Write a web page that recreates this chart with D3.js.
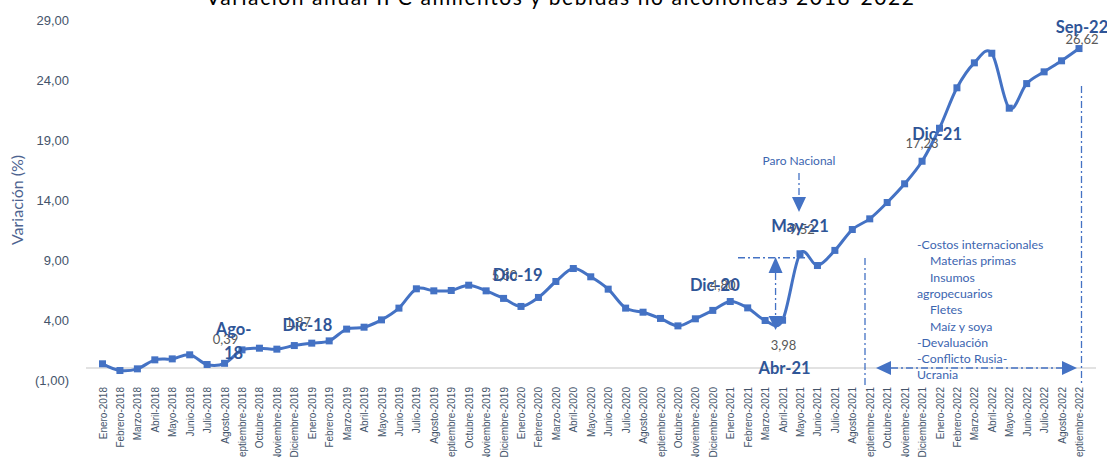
<!DOCTYPE html>
<html lang="es">
  <head>
    <meta charset="UTF-8" />
    <title>Variación anual IPC alimentos y bebidas no alcohólicas 2018-2022</title>
    <script src="https://cdn.jsdelivr.net/npm/d3@7"></script>
    <style>
      body {
        margin: 0;
        background: #fff;
      }

      svg {
        display: block;
        font-family: Lato, 'Open Sans', sans-serif;
      }

      .axis-y text {
        font-size: 13px;
        fill: #44546a;
      }

      .axis-x text {
        font-size: 10px;
        fill: #44546a;
      }

      .serie {
        fill: none;
        stroke: #4472c4;
        stroke-width: 3px;
      }

      .marker {
        fill: #4472c4;
      }

      .tag {
        font-size: 16.5px;
        font-weight: bold;
        fill: #2f5597;
      }

      .valor {
        font-size: 13px;
        fill: #595959;
      }

      .guia {
        fill: none;
        stroke: #4472c4;
        stroke-width: 1.3px;
        stroke-dasharray: 7 3 2 3;
      }

      .flecha {
        fill: #4472c4;
      }

      .nota {
        font-size: 12.3px;
        fill: #3c65b0;
      }
    </style>
  </head>
  <body>
    <svg width="1107" height="457"></svg>

    <script>
      // meses de la serie (etiquetas del eje x)
      const meses = [
        'Enero-2018', 'Febrero-2018', 'Marzo-2018', 'Abril-2018', 'Mayo-2018', 'Junio-2018',
        'Julio-2018', 'Agosto-2018', 'Septiembre-2018', 'Octubre-2018', 'Noviembre-2018', 'Diciembre-2018',
        'Enero-2019', 'Febrero-2019', 'Marzo-2019', 'Abril-2019', 'Mayo-2019', 'Junio-2019',
        'Julio-2019', 'Agosto-2019', 'Septiembre-2019', 'Octubre-2019', 'Noviembre-2019', 'Diciembre-2019',
        'Enero-2020', 'Febrero-2020', 'Marzo-2020', 'Abril-2020', 'Mayo-2020', 'Junio-2020',
        'Julio-2020', 'Agosto-2020', 'Septiembre-2020', 'Octubre-2020', 'Noviembre-2020', 'Diciembre-2020',
        'Enero-2021', 'Febrero-2021', 'Marzo-2021', 'Abril-2021', 'Mayo-2021', 'Junio-2021',
        'Julio-2021', 'Agosto-2021', 'Septiembre-2021', 'Octubre-2021', 'Noviembre-2021', 'Diciembre-2021',
        'Enero-2022', 'Febrero-2022', 'Marzo-2022', 'Abril-2022', 'Mayo-2022', 'Junio-2022',
        'Julio-2022', 'Agosto-2022', 'Septiembre-2022'
      ];

      // variación anual (%)
      const variacion = [
        0.35, -0.21, -0.07, 0.68, 0.76, 1.10, 0.29, 0.39, 1.51, 1.65, 1.57, 1.87,
        2.07, 2.26, 3.24, 3.40, 4.01, 4.99, 6.60, 6.43, 6.46, 6.90, 6.43, 5.80,
        5.13, 5.88, 7.21, 8.29, 7.60, 6.57, 4.99, 4.65, 4.13, 3.51, 4.10, 4.80,
        5.54, 5.01, 3.96, 3.98, 9.52, 8.54, 9.80, 11.54, 12.43, 13.79, 15.35, 17.23,
        19.98, 23.35, 25.43, 26.23, 21.65, 23.70, 24.68, 25.60, 26.62
      ];

      const yTicks = [-1, 4, 9, 14, 19, 24, 29];

      // puntos destacados: mes, rótulo
      const hitos = ['Agosto-2018', 'Diciembre-2018', 'Diciembre-2019', 'Diciembre-2020',
        'Abril-2021', 'Mayo-2021', 'Diciembre-2021', 'Septiembre-2022'];
      const hitoRotulos = [['Ago-', '18'], ['Dic-18'], ['Dic-19'], ['Dic-20'],
        ['Abr-21'], ['May-21'], ['Dic-21'], ['Sep-22']];

      const causas = ['-Costos internacionales', '   Materias primas', '   Insumos', 'agropecuarios',
        '   Fletes', '   Maíz y soya', '-Devaluación', '-Conflicto Rusia-', 'Ucrania'];

      // posiciones de rótulos (desplazamientos respecto al punto)
      const layout = {
        'Agosto-2018': { tag: [9, -34], tag2: [9, -10], val: [1, -24] },
        'Diciembre-2018': { tag: [13, -20], val: [4, -23] },
        'Diciembre-2019': { tag: [14, -23], val: [1, -23] },
        'Diciembre-2020': { tag: [2, -25], val: [10, -25] },
        'Abril-2021': { tag: [2, 48], val: [1, 25] },
        'Mayo-2021': { tag: [0, -28], val: [2, -24] },
        'Diciembre-2021': { tag: [15, -27], val: [0, -18] },
        'Septiembre-2022': { tag: [3, -21], val: [3, -9] }
      };

      const svg = d3.select('svg');

      const x = d3.scalePoint().domain(meses).range([102.5, 1079]);
      const y = d3.scaleLinear().domain([-1, 29]).range([380, 20]);

      const fmt = (v) => {
        const s = d3.format('.2f')(Math.abs(v)).replace('.', ',');
        return v < 0 ? '(' + s + ')' : s;
      };

      // título (cortado arriba como en el original)
      svg.append('text')
        .attr('x', 560)
        .attr('y', 5)
        .attr('text-anchor', 'middle')
        .attr('textLength', 708)
        .style('font-size', '21px')
        .style('fill', '#000')
        .text('Variación anual IPC alimentos y bebidas no alcohólicas 2018-2022');

      // eje y
      const gy = svg.append('g')
        .attr('class', 'axis-y')
        .attr('transform', 'translate(72,0)')
        .call(d3.axisLeft(y).tickValues(yTicks).tickSize(0).tickFormat(fmt));
      gy.select('.domain').remove();

      svg.append('text')
        .attr('transform', 'translate(23,200) rotate(-90)')
        .attr('text-anchor', 'middle')
        .style('font-size', '16px')
        .style('fill', '#4d6390')
        .text('Variación (%)');

      // línea del cero
      svg.append('line')
        .attr('x1', 86)
        .attr('x2', 1096)
        .attr('y1', y(0))
        .attr('y2', y(0))
        .style('stroke', '#d9d9d9')
        .style('stroke-width', 1.5);

      // eje x
      const gx = svg.append('g')
        .attr('class', 'axis-x')
        .attr('transform', 'translate(0,387)')
        .call(d3.axisBottom(x).tickSize(0));
      gx.select('.domain').remove();
      gx.selectAll('text')
        .attr('transform', 'rotate(-90)')
        .attr('x', 0)
        .attr('y', 0)
        .attr('dy', '0.35em')
        .style('text-anchor', 'end');

      // serie
      const datos = meses.map((m, i) => ({ mes: m, v: variacion[i] }));

      const linea = d3.line()
        .x((d) => x(d.mes))
        .y((d) => y(d.v))
        .curve(d3.curveCatmullRom.alpha(0));

      svg.append('path').datum(datos).attr('class', 'serie').attr('d', linea);

      svg.selectAll('.marker')
        .data(datos)
        .enter()
        .append('rect')
        .attr('class', 'marker')
        .attr('x', (d) => x(d.mes) - 3.5)
        .attr('y', (d) => y(d.v) - 3.5)
        .attr('width', 7)
        .attr('height', 7);

      // guías y flechas
      const guia = (x1, y1, x2, y2) =>
        svg.append('line').attr('class', 'guia')
          .attr('x1', x1).attr('y1', y1).attr('x2', x2).attr('y2', y2);
      const tri = (pts) =>
        svg.append('path').attr('class', 'flecha').attr('d', 'M' + pts.join('L') + 'Z');

      const xAbr = x('Abril-2021') - 7;
      const xMay = x('Mayo-2021');
      const yMay = y(variacion[meses.indexOf('Mayo-2021')]);

      // Paro Nacional
      svg.append('text')
        .attr('class', 'nota')
        .attr('x', xMay - 1)
        .attr('y', 165)
        .attr('text-anchor', 'middle')
        .style('font-size', '12px')
        .text('Paro Nacional');
      guia(xMay - 1, 173, xMay - 1, 197);
      tri([[xMay - 8, 197], [xMay + 6, 197], [xMay - 1, 212]]);

      // salto abril-mayo 2021
      guia(738, yMay + 4, xMay + 8, yMay + 4);
      tri([[xAbr - 7, 273], [xAbr + 7, 273], [xAbr, 257]]);
      guia(xAbr, 273, xAbr, 318);
      tri([[xAbr - 7, 316], [xAbr + 7, 316], [xAbr, 330]]);

      // periodo sep-2021 / sep-2022
      const xIni = 865;
      const xFin = 1081.5;
      guia(xIni, 258, xIni, 386);
      guia(xFin, 86, xFin, 386);
      tri([[876, 368], [891, 361], [891, 375]]);
      guia(891, 368, 1062, 368);
      tri([[1077, 368], [1062, 361], [1062, 375]]);

      svg.append('text')
        .attr('class', 'nota')
        .attr('x', 917)
        .attr('y', 249)
        .selectAll('tspan')
        .data(causas)
        .enter()
        .append('tspan')
        .attr('x', (d) => (d.startsWith('   ') ? 930 : 917))
        .attr('dy', (d, i) => (i === 0 ? 0 : 16.3))
        .text((d) => d.trim());

      // rótulos de puntos destacados
      hitos.forEach((m, i) => {
        const px = x(m);
        const py = y(variacion[meses.indexOf(m)]);
        const l = layout[m];
        svg.append('text')
          .attr('class', 'valor')
          .attr('x', px + l.val[0])
          .attr('y', py + l.val[1])
          .attr('dy', '0.35em')
          .attr('text-anchor', 'middle')
          .text(fmt(variacion[meses.indexOf(m)]));
        svg.append('text')
          .attr('class', 'tag')
          .attr('x', px + l.tag[0])
          .attr('y', py + l.tag[1])
          .attr('dy', '0.35em')
          .attr('text-anchor', 'middle')
          .text(hitoRotulos[i][0]);
        if (hitoRotulos[i][1]) {
          svg.append('text')
            .attr('class', 'tag')
            .attr('x', px + l.tag2[0])
            .attr('y', py + l.tag2[1])
            .attr('dy', '0.35em')
            .attr('text-anchor', 'middle')
            .text(hitoRotulos[i][1]);
        }
      });
    </script>
  </body>
</html>
